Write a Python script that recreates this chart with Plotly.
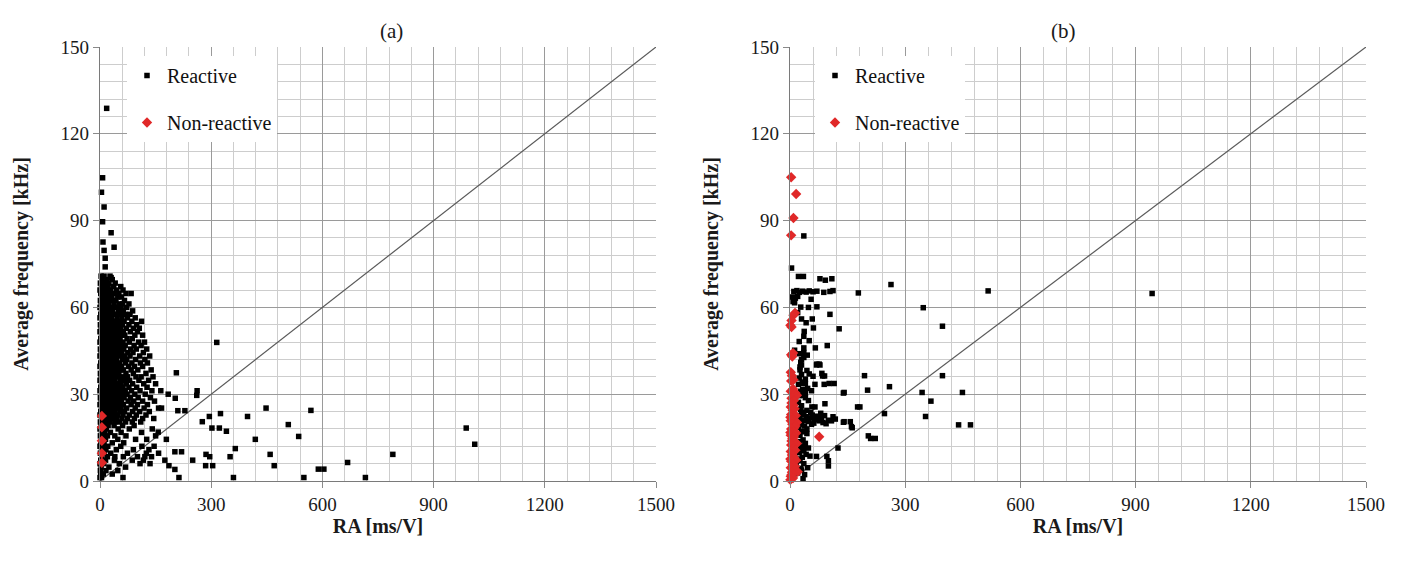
import plotly.graph_objects as go

# ---------------- data ----------------
# Panel (a): dense part of the reactive cloud, written row by row as
# (average frequency [kHz], [RA values in ms/V at that frequency])
cluster_rows_a = [
    (70.8, [3, 11, 27]),
    (69.6, [6, 19, 33]),
    (68.4, [1, 9, 15, 24, 41]),
    (67.2, [4, 13, 22, 37, 56]),
    (66.0, [0, 8, 17, 29, 45, 62]),
    (64.8, [2, 11, 20, 26, 39, 51, 70, 84]),
    (63.6, [5, 14, 23, 32, 48, 58]),
    (62.4, [1, 7, 16, 27, 35, 43, 66]),
    (61.2, [3, 10, 19, 24, 38, 52, 61, 78]),
    (60.0, [0, 6, 13, 21, 30, 41, 47, 57, 72]),
    (58.8, [4, 9, 17, 26, 34, 50, 63, 88]),
    (57.6, [2, 12, 19, 28, 39, 44, 55, 69, 81]),
    (56.4, [0, 7, 15, 23, 31, 46, 59, 74, 95]),
    (55.2, [5, 10, 18, 27, 36, 42, 53, 65, 86, 112]),
    (54.0, [1, 8, 14, 22, 33, 40, 49, 60, 78, 99]),
    (52.8, [3, 11, 20, 25, 37, 45, 56, 71, 90, 106]),
    (51.6, [0, 6, 16, 24, 30, 42, 51, 63, 82, 101]),
    (50.4, [4, 9, 18, 28, 35, 47, 58, 67, 94, 115]),
    (49.2, [2, 13, 21, 26, 39, 44, 54, 73, 87]),
    (48.0, [0, 7, 15, 23, 32, 41, 50, 62, 79, 104, 120]),
    (46.8, [5, 11, 19, 29, 36, 46, 57, 68, 92, 111]),
    (45.6, [1, 9, 17, 24, 33, 43, 52, 64, 83, 98, 126]),
    (44.4, [3, 12, 20, 28, 38, 49, 59, 75, 89, 117]),
    (43.2, [0, 6, 14, 25, 31, 42, 55, 66, 81, 107, 134]),
    (42.0, [4, 10, 18, 27, 36, 45, 61, 72, 96, 121]),
    (40.8, [2, 8, 16, 22, 34, 40, 53, 69, 86, 109, 128]),
    (39.6, [0, 12, 19, 30, 38, 48, 58, 77, 93, 115]),
    (38.4, [5, 9, 17, 25, 35, 44, 56, 63, 84, 102, 138]),
    (37.2, [1, 7, 14, 23, 31, 42, 51, 70, 90, 124]),
    (36.0, [3, 11, 20, 28, 37, 47, 60, 74, 97, 111, 143]),
    (34.8, [0, 6, 15, 24, 33, 40, 54, 66, 80, 105, 131]),
    (33.6, [4, 10, 18, 27, 36, 46, 57, 71, 88, 118, 150]),
    (32.4, [2, 13, 21, 29, 39, 50, 62, 78, 99, 127]),
    (31.2, [0, 7, 16, 24, 34, 44, 55, 68, 85, 108, 140, 164]),
    (30.0, [5, 9, 19, 27, 37, 47, 60, 73, 94, 122, 184]),
    (28.8, [1, 12, 17, 25, 32, 42, 53, 65, 82, 103, 136]),
    (27.6, [3, 8, 15, 23, 35, 46, 58, 76, 91, 115, 147]),
    (26.4, [0, 11, 20, 28, 39, 50, 63, 84, 101, 128]),
    (25.2, [4, 7, 16, 26, 33, 45, 57, 72, 95, 119, 158]),
    (24.0, [2, 10, 18, 29, 41, 55, 66, 88, 107, 133]),
    (22.8, [0, 6, 14, 23, 36, 48, 62, 79, 98, 124]),
    (21.6, [4, 12, 19, 31, 44, 59, 74, 93, 115, 145]),
    (20.4, [1, 8, 16, 27, 40, 53, 69, 87, 110]),
    (19.2, [3, 11, 22, 38, 61, 92]),
    (18.0, [0, 7, 17, 49, 79, 141]),
    (16.8, [4, 13, 28, 57, 112]),
    (15.6, [1, 9, 20, 40, 70, 150]),
    (14.4, [5, 15, 48, 96, 126]),
    (13.2, [2, 11, 33, 64]),
    (12.0, [0, 8, 21, 56, 113, 146]),
    (10.8, [4, 16, 44, 90, 132]),
    (9.6, [1, 12, 29, 74, 125, 158]),
    (8.4, [5, 20, 40, 63, 101, 121, 139]),
    (7.2, [2, 15, 39, 87, 117, 175]),
    (6.0, [0, 10, 52, 108, 135]),
    (4.8, [3, 24, 69]),
    (3.6, [1, 16, 48]),
    (2.4, [2, 9, 33]),
    (1.2, [0, 4, 62]),
]

# Panel (a): isolated reactive points, (RA [ms/V], frequency [kHz])
outliers_a = [
    (18, 128.8), (7, 104.8), (4, 99.8), (11, 94.7), (7, 89.6), (30, 85.8),
    (8, 82.6), (38, 80.8), (11, 79.7), (14, 77.0), (14, 74.0), (30, 70.3),
    (315, 47.9), (206, 37.4), (262, 31.2), (261, 29.6), (203, 28.6),
    (210, 24.3), (229, 24.3), (448, 25.2), (569, 24.4), (276, 20.5),
    (295, 22.3), (325, 23.3), (398, 22.3), (302, 18.3), (322, 18.3),
    (341, 17.2), (508, 19.5), (536, 15.4), (419, 14.4), (365, 11.2),
    (351, 8.4), (286, 9.2), (296, 8.4), (285, 5.3), (304, 5.3), (459, 9.2),
    (470, 5.3), (790, 9.2), (668, 6.4), (589, 4.1), (604, 4.1), (550, 1.2),
    (716, 1.2), (360, 1.2), (213, 1.2), (202, 4.0), (250, 7.2), (202, 10.1),
    (220, 10.1), (186, 5.3), (179, 14.4), (157, 16.9), (166, 25.2),
    (988, 18.3), (1011, 12.7),
]

nonreactive_a = [(5, 22.5), (5, 18.6), (5, 13.9), (5, 9.6), (5, 6.3)]

# Panel (b)
reactive_b = [
    (36, 84.7), (4, 73.6), (22, 70.7), (35, 70.7), (78, 69.9), (109, 69.9),
    (92, 69.4), (263, 67.9), (516, 65.7), (943, 64.8),
    (10, 65.5), (18, 65.8), (25, 65.2), (33, 65.6), (42, 65.3), (50, 65.7),
    (60, 65.4), (70, 65.6), (88, 65.2), (104, 65.5), (112, 65.8), (178, 65.0),
    (6, 63.6), (14, 63.2), (20, 63.8), (8, 62.0), (12, 61.6), (55, 62.8),
    (28, 60.1), (48, 60.0), (70, 60.2), (347, 59.9), (20, 58.2), (30, 56.0),
    (104, 57.6), (42, 54.7), (397, 53.5), (61, 52.9), (128, 52.6),
    (37, 51.7), (36, 50.0), (24, 48.2), (97, 46.8), (36, 46.0), (36, 44.4),
    (45, 43.5), (36, 42.7), (12, 45.2), (28, 41.0), (70, 40.4), (76, 40.4),
    (26, 38.4), (50, 37.0), (85, 36.3), (194, 36.4), (397, 36.4), (40, 35.2),
    (22, 33.4), (40, 33.7), (65, 33.4), (89, 33.4), (33, 31.6), (40, 30.2),
    (141, 30.6), (202, 31.4), (259, 32.6), (344, 30.6), (449, 30.6),
    (25, 29.5), (40, 28.8), (48, 27.8), (22, 27.2), (91, 26.7), (367, 27.6),
    (30, 26.0), (57, 25.6), (65, 25.6), (176, 25.6), (182, 25.6),
    (246, 23.3), (353, 22.3),
    (20, 22.6), (26, 21.4), (30, 23.0), (35, 21.0), (42, 22.2), (48, 20.6),
    (52, 21.8), (58, 22.8), (64, 21.2), (70, 22.4), (76, 20.8), (82, 21.6),
    (90, 22.6), (100, 21.0), (108, 20.8), (141, 20.5), (157, 20.5),
    (439, 19.4), (470, 19.4), (162, 18.4), (204, 15.6), (210, 14.7),
    (222, 14.7),
    (22, 18.6), (30, 17.2), (38, 19.0), (26, 15.8), (44, 16.4), (34, 14.2),
    (18, 12.6), (28, 11.8), (40, 13.0), (24, 9.8), (36, 10.4), (125, 11.4),
    (20, 7.6), (32, 8.2), (69, 8.5), (96, 8.5), (100, 7.0), (100, 5.2),
    (16, 5.4), (28, 4.4), (20, 2.8), (43, -0.5), (65, -0.5),
    (24, 44.0), (30, 42.0), (26, 39.4), (44, 38.2), (30, 36.8), (24, 35.6),
    (32, 34.2), (46, 32.0), (28, 31.0), (36, 29.6), (44, 24.4), (28, 24.8),
    (36, 23.8), (24, 20.0), (30, 19.4), (44, 18.0), (34, 17.0), (26, 13.6),
    (38, 12.0), (30, 10.8), (42, 9.2), (26, 7.0), (36, 6.0), (30, 3.8),
    (38, 2.2), (34, 0.8), (46, 4.6), (52, 8.6), (48, 11.4), (56, 19.6),
    (62, 20.0), (54, 23.6), (80, 23.4), (86, 20.2), (94, 19.8), (112, 22.2),
    (118, 21.4), (139, 20.3), (160, 18.8), (69, 40.1), (78, 40.1),
    (83, 37.2), (90, 36.3), (102, 33.7), (115, 33.7), (139, 30.4),
    (30, 40.1), (35, 33.7), (56, 31.2), (60, 36.2), (66, 46.0), (50, 48.5),
    (58, 56.0),
]

nonreactive_b = [
    (3, 105.0), (16, 99.2), (9, 90.9), (3, 84.9),
    (13, 58.1), (9, 57.3), (4, 55.5), (1, 53.8), (4, 53.2),
    (3, 43.6), (6, 43.0), (8, 44.2),
    (2, 37.6), (5, 36.4), (9, 35.0), (3, 34.6), (8, 31.8), (2, 31.0),
    (14, 30.4), (18, 29.6), (4, 28.6), (10, 27.8), (4, 27.0), (9, 26.2),
    (2, 25.6), (12, 25.0), (7, 24.4), (3, 23.0), (15, 22.6), (10, 22.2),
    (1, 22.0), (7, 21.2), (2, 20.8), (18, 20.2), (6, 19.6), (14, 19.0),
    (11, 18.4), (3, 18.0), (9, 17.0), (1, 16.8), (16, 16.6), (2, 15.8),
    (10, 15.2), (6, 14.6), (4, 13.8), (12, 13.6), (18, 13.0), (3, 12.4),
    (8, 11.2), (14, 10.6), (2, 10.2), (5, 9.0), (8, 8.6), (11, 8.0),
    (1, 7.6), (16, 7.2), (3, 6.8), (7, 5.6), (13, 5.0), (2, 4.6),
    (12, 3.8), (20, 3.2), (5, 3.0), (4, 2.2), (2, 1.6), (8, 1.0), (1, 0.4),
    (76, 15.3),
]

# equality reference line, frequency = RA / 10
diag_ra = [0, 1500]
diag_freq = [0, 150]

x_ticks = [0, 300, 600, 900, 1200, 1500]
y_ticks = [0, 30, 60, 90, 120, 150]

# ---------------- assembly ----------------
reactive_a = [(ra, f) for f, ras in cluster_rows_a for ra in ras] + outliers_a


def split(pairs):
    return [p[0] for p in pairs], [p[1] for p in pairs]


SERIF = "Liberation Serif"
BLACK = "#000000"
RED = "#e02828"
TXT = "#1a1a1a"

fig = go.Figure()

panels = [
    ("x", "y", "legend", reactive_a, nonreactive_a),
    ("x2", "y2", "legend2", reactive_b, nonreactive_b),
]
for xa, ya, leg, reac, nonreac in panels:
    fig.add_trace(go.Scatter(
        x=diag_ra, y=diag_freq, mode="lines", xaxis=xa, yaxis=ya,
        line=dict(color="#5a5a5a", width=1.2), showlegend=False,
        hoverinfo="skip"))
    rx, ry = split(reac)
    fig.add_trace(go.Scatter(
        x=rx, y=ry, mode="markers", name="Reactive", xaxis=xa, yaxis=ya,
        legend=leg, legendgroup="r" + xa, cliponaxis=False,
        marker=dict(symbol="square", size=5.5, color=BLACK,
                    line=dict(width=0))))
    nx, ny = split(nonreac)
    fig.add_trace(go.Scatter(
        x=nx, y=ny, mode="markers", name="Non-reactive", xaxis=xa, yaxis=ya,
        legend=leg, legendgroup="n" + xa, cliponaxis=False,
        marker=dict(symbol="diamond", size=8, color=RED,
                    line=dict(width=0))))

axis_common = dict(
    showgrid=True, gridcolor="#9a9a9a", gridwidth=1.2,
    showline=True, linecolor="#7a7a7a", linewidth=1.2,
    ticks="outside", ticklen=6, tickcolor="#8a8a8a", tickwidth=1.2,
    zeroline=False, automargin=False,
    tickfont=dict(family=SERIF, size=19, color=TXT),
)
xaxis_common = dict(
    axis_common, range=[0, 1500], tickvals=x_ticks,
    minor=dict(dtick=60, tick0=0, showgrid=True, gridcolor="#cdcdcd",
               gridwidth=1.2),
    title=dict(text="<b>RA [ms/V]</b>", standoff=2,
               font=dict(family=SERIF, size=20, color=TXT)),
)
yaxis_common = dict(
    axis_common, range=[0, 150], tickvals=y_ticks,
    minor=dict(dtick=6, tick0=0, showgrid=True, gridcolor="#cdcdcd",
               gridwidth=1.2),
    title=dict(text="<b>Average frequency [kHz]</b>", standoff=26,
               font=dict(family=SERIF, size=20, color=TXT)),
)

W, H = 1403, 561
ytop, ybot = 1 - 47 / H, 1 - 481 / H

legend_common = dict(
    bgcolor="#ffffff", borderwidth=0, tracegroupgap=18,
    font=dict(family=SERIF, size=20, color="#111111"),
    xanchor="left", yanchor="top", itemwidth=30,
)

fig.update_layout(
    width=W, height=H,
    font=dict(family=SERIF, size=19, color=TXT),
    margin=dict(l=0, r=0, t=0, b=0),
    paper_bgcolor="#ffffff", plot_bgcolor="#ffffff",
    xaxis=dict(xaxis_common, domain=[100 / W, 656 / W], anchor="y"),
    yaxis=dict(yaxis_common, domain=[ybot, ytop], anchor="x"),
    xaxis2=dict(xaxis_common, domain=[790 / W, 1366 / W], anchor="y2"),
    yaxis2=dict(yaxis_common, domain=[ybot, ytop], anchor="x2"),
    legend=dict(legend_common, x=127 / W, y=1 - 56 / H),
    legend2=dict(legend_common, x=815 / W, y=1 - 56 / H),
    annotations=[
        dict(text="(a)", x=(100 + 656) / 2 / W, y=1 - 17 / H,
             xref="paper", yref="paper", showarrow=False,
             font=dict(family=SERIF, size=21, color=TXT)),
        dict(text="(b)", x=(790 + 1366) / 2 / W, y=1 - 17 / H,
             xref="paper", yref="paper", showarrow=False,
             font=dict(family=SERIF, size=21, color=TXT)),
    ],
    showlegend=True,
)

fig.write_html("out.html")
